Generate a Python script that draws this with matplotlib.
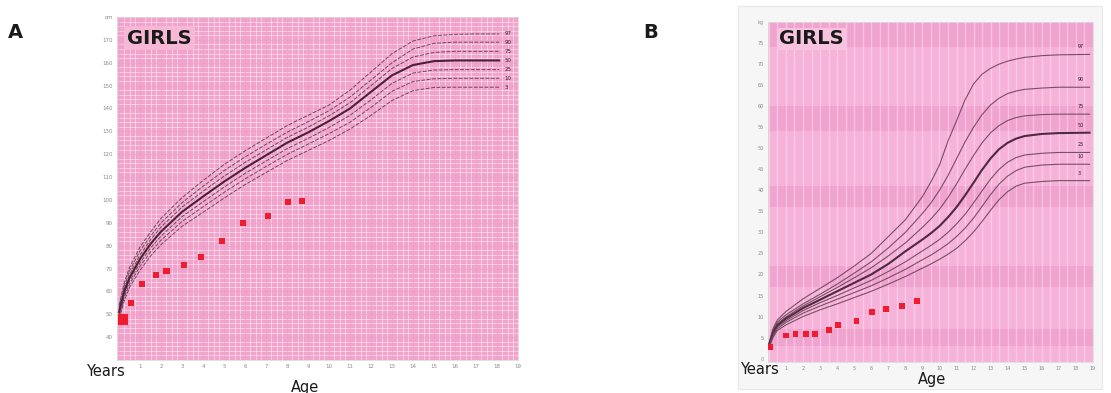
import matplotlib
matplotlib.use("Agg")
import matplotlib.pyplot as plt
from matplotlib.patches import Rectangle
import numpy as np

# ---------------- Data: panel A (height, cm) ----------------
ages_a = [0, 0.25, 0.5, 1, 1.5, 2, 3, 4, 5, 6, 7, 8, 9, 10, 11, 12, 13, 14, 15, 16, 17, 18.1]
a_p97 = [54, 64, 70.5, 79.5, 86, 92, 101, 108.5, 115.5, 121.5, 127, 132.5, 137, 141.5, 148, 156, 164, 169.5, 171.8, 172.4, 172.6, 172.6]
a_p90 = [53, 62.5, 69, 77.8, 84.2, 90, 98.8, 106, 112.8, 118.8, 124.3, 129.6, 134.2, 139, 145, 152.5, 160, 166, 168.5, 169, 169, 169]
a_p75 = [52, 61.3, 67.5, 76, 82.6, 88.2, 96.9, 103.8, 110.4, 116.4, 121.9, 127.3, 131.8, 136.8, 142.5, 150, 157.5, 162.5, 164.5, 165, 165, 165]
a_p50 = [51, 60, 66, 74.2, 80.8, 86.2, 94.8, 101.5, 108, 114, 119.5, 125, 129.5, 134.5, 140, 147.3, 154.5, 159, 160.7, 161, 161, 161]
a_p25 = [50, 58.7, 64.5, 72.5, 79, 84.2, 92.7, 99.2, 105.6, 111.6, 117, 122.4, 126.9, 131.7, 137, 143.8, 151, 155.5, 156.8, 157, 157, 157]
a_p10 = [49, 57.5, 63.2, 71, 77.3, 82.4, 90.6, 97, 103.3, 109.2, 114.6, 119.9, 124.4, 129, 134, 140.5, 147.5, 151.8, 153, 153.2, 153.2, 153.2]
a_p3 = [48, 56, 61.8, 69.3, 75.5, 80.5, 88.5, 94.6, 100.8, 106.7, 112, 117.2, 121.6, 126, 131, 137, 143.5, 147.8, 149.2, 149.3, 149.3, 149.3]
a_curves = [a_p97, a_p90, a_p75, a_p50, a_p25, a_p10, a_p3]
pct_labels = ["97", "90", "75", "50", "25", "10", "3"]

a_pt_age = [0.2, 0.57, 1.1, 1.74, 2.26, 3.08, 3.89, 4.91, 5.92, 7.09, 8.06, 8.7]
a_pt_val = [47.7, 55, 63.1, 67.2, 69, 71.7, 75.2, 82.1, 89.9, 93.1, 99, 99.7]
a_yticks = [40, 50, 60, 70, 80, 90, 100, 110, 120, 130, 140, 150, 160, 170, 180]
a_ytick_labels = ["40", "50", "60", "70", "80", "90", "100", "110", "120", "130", "140", "150", "160", "170", "cm"]
x_ticks = list(range(1, 20))
x_tick_labels = [str(v) for v in x_ticks]

# ---------------- Data: panel B (weight, kg) ----------------
ages_b = [0, 0.25, 0.5, 1, 2, 3, 4, 5, 6, 7, 8, 9, 9.5, 10, 10.5, 11, 11.5, 12, 12.5, 13, 13.5, 14, 14.5, 15, 16, 17, 18.8]
b_p97 = [3.6, 7.2, 9.2, 11.2, 14.2, 16.7, 19.2, 22, 25, 29, 33, 38.5, 42, 46, 51.7, 56.5, 61.5, 65.3, 67.6, 69, 70, 70.7, 71.2, 71.6, 72, 72.2, 72.3]
b_p90 = [3.4, 6.8, 8.7, 10.4, 13, 15.3, 17.7, 20.3, 23, 26.3, 30, 34.5, 37, 40, 43.5, 47.5, 51.5, 55, 58, 60.3, 61.9, 63, 63.6, 64, 64.3, 64.5, 64.5]
b_p75 = [3.2, 6.5, 8.3, 9.9, 12.5, 14.7, 16.9, 19.2, 21.6, 24.4, 27.5, 31.2, 33.2, 35.5, 38.3, 41.5, 45, 48.3, 51.3, 53.7, 55.4, 56.6, 57.3, 57.7, 58, 58.1, 58.1]
b_p50 = [3.0, 6.1, 7.9, 9.5, 12, 14, 16, 18, 20, 22.5, 25.5, 28.3, 29.8, 31.5, 33.6, 36, 38.8, 41.8, 44.9, 47.6, 49.8, 51.3, 52.3, 52.9, 53.4, 53.6, 53.7]
b_p25 = [2.9, 5.8, 7.5, 9, 11.4, 13.3, 15, 16.8, 18.6, 20.7, 23, 25.6, 26.9, 28.3, 30, 32, 34.3, 37, 39.9, 42.7, 45, 46.7, 47.8, 48.4, 48.8, 49, 49]
b_p10 = [2.7, 5.5, 7.1, 8.6, 10.8, 12.5, 14.1, 15.7, 17.3, 19.2, 21.2, 23.5, 24.6, 25.9, 27.3, 29, 31, 33.4, 36.2, 39, 41.5, 43.4, 44.7, 45.5, 46, 46.2, 46.2]
b_p3 = [2.5, 5.1, 6.7, 8, 10, 11.6, 13, 14.5, 16, 17.7, 19.5, 21.5, 22.5, 23.6, 24.8, 26.2, 28, 30.1, 32.6, 35.3, 37.8, 39.7, 41, 41.7, 42.1, 42.3, 42.3]
b_curves = [b_p97, b_p90, b_p75, b_p50, b_p25, b_p10, b_p3]

b_pt_age = [0.08, 1.0, 1.56, 2.18, 2.7, 3.5, 4.07, 5.14, 6.03, 6.85, 7.78, 8.66]
b_pt_val = [2.8, 5.5, 5.9, 5.8, 5.9, 6.9, 7.9, 8.9, 11.1, 11.7, 12.6, 13.8]
b_yticks = [0, 5, 10, 15, 20, 25, 30, 35, 40, 45, 50, 55, 60, 65, 70, 75, 80]
b_ytick_labels = ["0", "5", "10", "15", "20", "25", "30", "35", "40", "45", "50", "55", "60", "65", "70", "75", "kg"]
b_bands = [(3, 7), (17, 22), (36, 41), (54, 60), (74, 80)]

W, H = 1111, 393
fig = plt.figure(figsize=(W / 100, H / 100), dpi=100)
fig.patch.set_facecolor("white")

def fx(px):
    return px / W

def fy(py):
    return 1 - py / H

# light frame behind panel B
frame = Rectangle((fx(738), fy(389)), fx(1102) - fx(738), fy(6) - fy(389),
                  transform=fig.transFigure, facecolor="#f6f6f6",
                  edgecolor="#e8e8e8", lw=0.8, zorder=-5)
fig.patches.append(frame)

tick_color = "#8a8a8a"

# ---------------- Panel A ----------------
axA = fig.add_axes([fx(117), fy(360), fx(518) - fx(117), fy(17) - fy(360)])
axA.set_zorder(1)
axA.set_xlim(-0.1, 18.95)
axA.set_ylim(30, 180)
axA.set_facecolor("#f2a3cc")
for xv in np.arange(0, 19.01, 0.25):
    axA.axvline(xv, color="white", lw=0.7, alpha=0.45, zorder=1)
for yv in np.arange(30, 180.1, 2):
    axA.axhline(yv, color="white", lw=0.7, alpha=0.45, zorder=1)
for xv in np.arange(0, 19.01, 1):
    axA.axvline(xv, color="#e47fb5", lw=0.6, alpha=0.6, zorder=1)
for yv in np.arange(30, 180.1, 10):
    axA.axhline(yv, color="#e47fb5", lw=0.6, alpha=0.6, zorder=1)

for curve, lab in zip(a_curves, pct_labels):
    if lab == "50":
        axA.plot(ages_a, curve, color="#4a2236", lw=1.5, zorder=3)
    else:
        axA.plot(ages_a, curve, color="#5a3548", lw=0.7, ls=(0, (4, 1.5)), alpha=0.85, zorder=3)
    axA.text(18.35, curve[-1], lab, fontsize=4, color="#3a2030", va="center", ha="left", zorder=4)

sizesA = [55] + [20] * (len(a_pt_age) - 1)
axA.scatter(a_pt_age, a_pt_val, s=sizesA, marker="s", color="#ee1c2e", edgecolors="none", zorder=5)

axA.set_xticks(x_ticks)
axA.set_xticklabels(x_tick_labels)
axA.set_yticks(a_yticks)
axA.set_yticklabels(a_ytick_labels)
axA.tick_params(axis="both", length=0, labelsize=4, labelcolor=tick_color, pad=3)
for s in axA.spines.values():
    s.set_color("#dcdcdc")
    s.set_linewidth(0.6)

# ---------------- Panel B ----------------
axB = fig.add_axes([fx(768), fy(362), fx(1093) - fx(768), fy(22) - fy(362)])
axB.set_zorder(1)
axB.set_xlim(-0.05, 18.95)
axB.set_ylim(-0.8, 80)
axB.set_facecolor("#f6b2d8")
for lo, hi in b_bands:
    axB.axhspan(lo, hi, color="#ee98c9", alpha=0.55, lw=0, zorder=1)
for xv in np.arange(0, 19.01, 0.5):
    axB.axvline(xv, color="white", lw=1.0, alpha=0.35, zorder=1)

for curve, lab in zip(b_curves, pct_labels):
    if lab == "50":
        axB.plot(ages_b, curve, color="#4e2a40", lw=1.5, zorder=3)
    else:
        axB.plot(ages_b, curve, color="#6b4459", lw=0.8, alpha=0.9, zorder=3)
    axB.text(18.1, curve[-1] + 1.2, lab, fontsize=3.5, color="#3a2030", va="bottom", ha="left", zorder=4)

axB.scatter(b_pt_age, b_pt_val, s=18, marker="s", color="#ee1c2e", edgecolors="none", zorder=5)

axB.set_xticks(x_ticks)
axB.set_xticklabels(x_tick_labels)
axB.set_yticks(b_yticks)
axB.set_yticklabels(b_ytick_labels)
axB.tick_params(axis="both", length=0, labelsize=3.5, labelcolor=tick_color, pad=3)
for s in axB.spines.values():
    s.set_color("#dcdcdc")
    s.set_linewidth(0.6)

# ---------------- GIRLS boxes and labels ----------------
fig.text(fx(127), fy(38), "GIRLS", fontsize=14, fontweight="bold", color="#1a1a1a",
         ha="left", va="center", zorder=10,
         bbox=dict(boxstyle="square,pad=0.15", facecolor="#f7b8d6", edgecolor="none"))
fig.text(fx(779), fy(39), "GIRLS", fontsize=14, fontweight="bold", color="#1a1a1a",
         ha="left", va="center", zorder=10,
         bbox=dict(boxstyle="square,pad=0.1", facecolor="#f8c3de", edgecolor="none"))

fig.text(fx(8), fy(33), "A", fontsize=14, fontweight="bold", color="#1a1a1a", ha="left", va="center")
fig.text(fx(643), fy(33), "B", fontsize=14, fontweight="bold", color="#1a1a1a", ha="left", va="center")
fig.text(fx(86), fy(372), "Years", fontsize=10.5, color="#1a1a1a", ha="left", va="center", zorder=10)
fig.text(fx(305), fy(380), "Age", fontsize=10.5, color="#1a1a1a", ha="center", va="top")
fig.text(fx(740), fy(370), "Years", fontsize=10.5, color="#1a1a1a", ha="left", va="center", zorder=10)
fig.text(fx(932), fy(372), "Age", fontsize=10.5, color="#1a1a1a", ha="center", va="top")

fig.savefig("out.png", dpi=100)
